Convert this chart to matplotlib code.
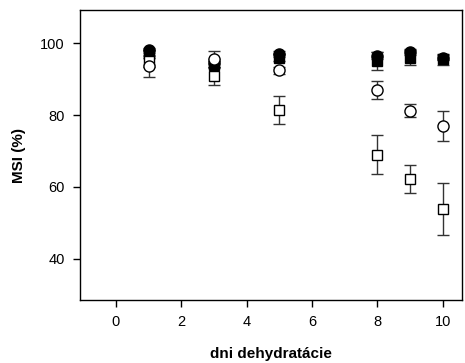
"""MSI (%) vs. days of dehydration, four treatments with error bars."""

import matplotlib
matplotlib.use("Agg")
import matplotlib.pyplot as plt

plt.rcParams['font.family'] = ['Liberation Sans', 'DejaVu Sans']

DAYS = [1, 3, 5, 8, 9, 10]

filled_sq = [97.0, 94.0, 96.0, 95.0, 96.0, 95.5]
filled_sq_err = [1.0, 1.0, 1.0, 2.5, 2.0, 1.5]

open_sq = [95.0, 90.8, 81.4, 69.0, 62.2, 53.8]
open_sq_err = [1.5, 2.5, 3.8, 5.5, 3.8, 7.2]

filled_ci = [98.0, 94.5, 97.0, 96.5, 97.5, 96.0]
filled_ci_err = [0.8, 1.0, 0.8, 1.0, 0.8, 0.8]

open_ci = [93.6, 95.5, 92.5, 87.0, 81.2, 76.9]
open_ci_err = [3.0, 2.2, 1.0, 2.5, 1.8, 4.2]


def series(ax, y, err, marker, face):
    ax.errorbar(DAYS, y, yerr=err, fmt=marker, ms=8 if marker == 'o' else 7,
                mfc=face, mec='black', mew=1.0, ecolor='#333333',
                elinewidth=1.0, capsize=4, capthick=1.0, linestyle='none')


def main():
    fig = plt.figure(figsize=(4.65, 3.63), dpi=100)
    ax = fig.add_axes([0.172, 0.174, 0.822, 0.798])

    series(ax, filled_sq, filled_sq_err, 's', 'black')
    series(ax, open_sq, open_sq_err, 's', 'white')
    series(ax, filled_ci, filled_ci_err, 'o', 'black')
    series(ax, open_ci, open_ci_err, 'o', 'white')

    ax.set_xlim(-1.1, 10.6)
    ax.set_ylim(28.6, 109.2)
    ax.set_xticks([0, 2, 4, 6, 8, 10])
    ax.set_yticks([40, 60, 80, 100])
    ax.tick_params(direction='out', length=5, width=1, labelsize=10.5, pad=6)
    for s in ax.spines.values():
        s.set_linewidth(1.0)

    ax.set_xlabel('dni dehydratácie', fontsize=11, fontweight='bold', labelpad=13)
    ax.set_ylabel('MSI (%)', fontsize=11, fontweight='bold', labelpad=10)

    fig.savefig('out.png', dpi=100)


if __name__ == '__main__':
    main()
